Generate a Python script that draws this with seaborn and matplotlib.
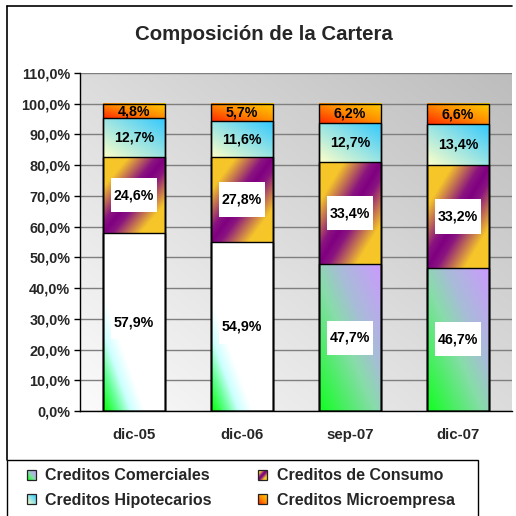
import numpy as np
import pandas as pd
import matplotlib
matplotlib.use('Agg')
import matplotlib.pyplot as plt
import seaborn as sns
from matplotlib.colors import to_rgb
from matplotlib.patches import Rectangle
from matplotlib.lines import Line2D
from matplotlib.path import Path
from matplotlib.legend_handler import HandlerBase
from matplotlib.image import BboxImage
from matplotlib.transforms import Bbox, TransformedBbox

categories = ['dic-05', 'dic-06', 'sep-07', 'dic-07']
comerciales = [57.9, 54.9, 47.7, 46.7]
consumo = [24.6, 27.8, 33.4, 33.2]
hipotecarios = [12.7, 11.6, 12.7, 13.4]
microempresa = [4.8, 5.7, 6.2, 6.6]
series_names = ['Creditos Comerciales', 'Creditos de Consumo',
                'Creditos Hipotecarios', 'Creditos Microempresa']
title = 'Composición de la Cartera'
yticks = list(range(0, 111, 10))

sns.set_theme(style='white')
plt.rcParams['font.family'] = ['Liberation Sans', 'DejaVu Sans']
plt.rcParams['font.weight'] = 'bold'

W = 516
fig = plt.figure(figsize=(5.16, 5.16), dpi=100)
fig.patch.set_facecolor('white')
ax = fig.add_axes([80 / W, 1 - 411 / W, 432 / W, (411 - 73) / W])

N = 96
u, v = np.meshgrid(np.linspace(0, 1, N), np.linspace(0, 1, N))


def lerp(c0, c1, t):
    c0 = np.array(to_rgb(c0)); c1 = np.array(to_rgb(c1))
    return c0 + (c1 - c0) * t[..., None]


def multi(stops, t):
    t = np.clip(t, 0, 1)
    out = np.zeros(t.shape + (3,))
    for k in range(len(stops) - 1):
        p0, c0 = stops[k]
        p1, c1 = stops[k + 1]
        m = (t >= p0) & (t <= p1)
        tt = (t - p0) / (p1 - p0)
        out[m] = lerp(c0, c1, tt)[m]
    return out


GRAD_MICRO = [(0, '#ff2a00'), (0.5, '#ff8c00'), (1, '#ffd000')]
GRAD_HIPO = [(0, '#ffffc8'), (1, '#30c8ff')]
GRAD_CONS = [(0, '#800080'), (0.15, '#8a1480'), (0.6, '#f5c52a'), (1, '#f8c828')]
GRAD_COM = [(0, '#10ff20'), (0.45, '#88dcaa'), (0.65, '#a8bcd8'), (1, '#cc99ff')]
GRAD_COM_W = [(0, '#00ff00'), (0.12, '#60ff90'), (0.22, '#ccffff'), (0.33, '#ffffff'), (1, '#ffffff')]


def grad_for(i, j, uu=u, vv=v):
    if i == 3:
        return multi(GRAD_MICRO, (uu + vv) / 2)
    if i == 2:
        return multi(GRAD_HIPO, (uu + vv) / 2)
    if i == 1:
        return multi(GRAD_CONS, np.abs(uu - vv))
    if j is not None and j < 2:
        return multi(GRAD_COM_W, (uu + vv) / 2)
    return multi(GRAD_COM, (uu + vv) / 2)


# background gradient
bg = multi([(0, '#fbfbfb'), (1, '#bdbdbd')], (u + v) / 2)
ax.imshow(bg, extent=(0, 1, 0, 1), transform=ax.transAxes, origin='lower',
          aspect='auto', zorder=0, interpolation='bilinear')

values = [comerciales, consumo, hipotecarios, microempresa]
cum = np.cumsum(values, axis=0)

layer_patches = {}
for i in range(3, -1, -1):
    n0 = len(ax.patches)
    sns.barplot(x=categories, y=cum[i], width=0.58, color='white',
                errorbar=None, ax=ax)
    new = ax.patches[n0:]
    for p in new:
        p.set_facecolor('none')
        p.set_edgecolor('black')
        p.set_linewidth(1)
        p.set_zorder(3)
    layer_patches[i] = new


def label_box(x0, y0, width, height, mutation_size):
    px = 0.2 * mutation_size
    py = 0.72 * mutation_size
    verts = [(x0 - px, y0 - py), (x0 + width + px, y0 - py),
             (x0 + width + px, y0 + height + py), (x0 - px, y0 + height + py),
             (x0 - px, y0 - py)]
    return Path(verts, closed=True)


for i in range(4):
    for j, p in enumerate(layer_patches[i]):
        x0 = p.get_x(); w = p.get_width()
        y1 = cum[i][j]; y0 = y1 - values[i][j]
        img = grad_for(i, j)
        ax.imshow(img, extent=(x0, x0 + w, y0, y1), origin='lower', aspect='auto',
                  zorder=2, interpolation='bilinear')
        label = f'{values[i][j]:.1f}%'.replace('.', ',')
        kw = {}
        if i < 2:
            kw['bbox'] = dict(boxstyle=label_box, facecolor='white', edgecolor='none')
        ax.text(x0 + w / 2, (y0 + y1) / 2, label, ha='center', va='center',
                fontsize=10.2, fontweight='bold', color='black', zorder=4, **kw)

ax.set_xlim(-0.5, 3.5)
ax.set_ylim(0, 110)
ax.set_axisbelow(True)
ax.set_yticks(yticks)
ax.set_yticklabels([f'{t:.1f}%'.replace('.', ',') for t in yticks],
                   fontsize=10.4, fontweight='bold')
ax.yaxis.grid(True, color='#7f7f7f', linewidth=1)
ax.xaxis.grid(False)
ax.set_xticks(range(len(categories)))
ax.set_xticklabels(categories, fontsize=10.8, fontweight='bold')
ax.set_xticks(np.arange(-0.5, len(categories), 1), minor=True)
ax.tick_params(axis='x', which='major', length=0, pad=12)
ax.tick_params(axis='x', which='minor', length=4, width=1, color='black', direction='out')
ax.tick_params(axis='y', length=4, width=1, color='black', direction='out', pad=3, left=True)
ax.set_xlabel(''); ax.set_ylabel('')
for s in ['top', 'right']:
    ax.spines[s].set_visible(False)
for s in ['left', 'bottom']:
    ax.spines[s].set_visible(True)
    ax.spines[s].set_color('black')
    ax.spines[s].set_linewidth(1)

fig.text(264 / W, 1 - 35 / W, title, ha='center', va='center', fontsize=14.7,
         fontweight='bold')

# outer frame
fig.add_artist(Line2D([7 / W, 512 / W], [1 - 6 / W] * 2, color='black', lw=1.2,
                      transform=fig.transFigure))
fig.add_artist(Line2D([7 / W] * 2, [1 - 6 / W, 1 - 460 / W], color='black', lw=1.2,
                      transform=fig.transFigure))
fig.add_artist(Rectangle((7 / W, -0.05), (478 - 7) / W, 0.05 + 1 - 460 / W,
                         transform=fig.transFigure, facecolor='white',
                         edgecolor='black', lw=1))


class GradHandler(HandlerBase):
    def __init__(self, series_idx):
        super().__init__()
        self.series_idx = series_idx

    def create_artists(self, legend, orig_handle, xdescent, ydescent, width,
                       height, fontsize, trans):
        uu, vv = np.meshgrid(np.linspace(0, 1, 16), np.linspace(0, 1, 16))
        img = grad_for(self.series_idx, None, uu, vv)
        bb = TransformedBbox(Bbox.from_bounds(-xdescent, -ydescent, width, height), trans)
        bi = BboxImage(bb, origin='lower', interpolation='bilinear')
        bi.set_data(img)
        rect = Rectangle((-xdescent, -ydescent), width, height, facecolor='none',
                         edgecolor='#222222', lw=0.9, transform=trans)
        return [bi, rect]


handles = [Rectangle((0, 0), 1, 1) for _ in range(4)]
order = [0, 2, 1, 3]
leg = fig.legend([handles[k] for k in order], [series_names[k] for k in order],
                 handler_map={handles[k]: GradHandler(k) for k in range(4)},
                 ncol=2, loc='center left', bbox_to_anchor=(27 / W, 1 - 488 / W),
                 frameon=False, prop={'size': 11.5, 'weight': 'bold'},
                 handlelength=0.55, handleheight=0.55, handletextpad=0.6,
                 columnspacing=2.9, labelspacing=0.58, borderpad=0, borderaxespad=0)

fig.savefig('out.png', dpi=100)
